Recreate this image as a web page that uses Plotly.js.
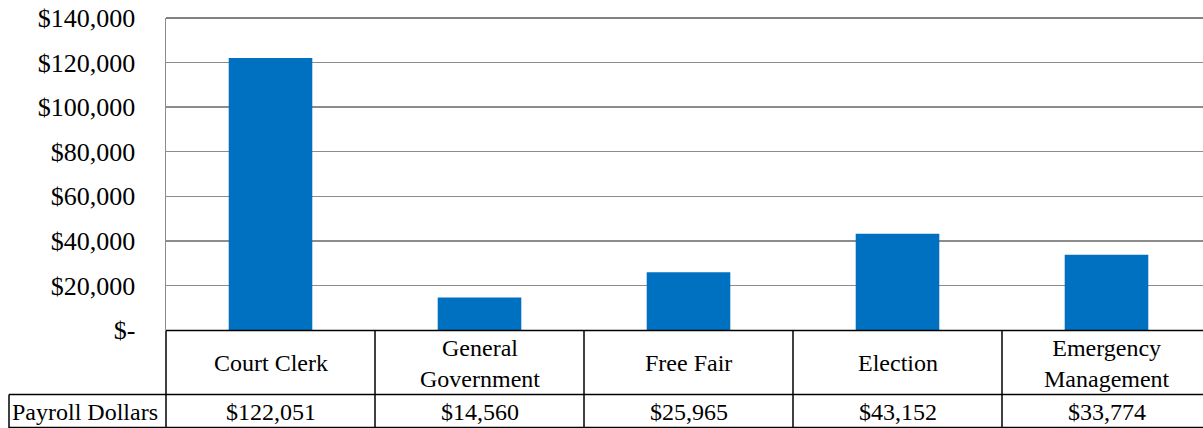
<!DOCTYPE html>
<html>
<head>
<meta charset="utf-8">
<script src="https://cdn.plot.ly/plotly-3.0.1.min.js"></script>
<style>html,body{margin:0;padding:0;background:#fff;}#chart{width:1203px;height:428px;}</style>
</head>
<body>
<div id="chart"></div>
<script>
const categories = ["Court Clerk", "General<br>Government", "Free Fair", "Election", "Emergency<br>Management"];
const payroll = [122051, 14560, 25965, 43152, 33774];
const valueLabels = ["$122,051", "$14,560", "$25,965", "$43,152", "$33,774"];
const rowLabel = "Payroll Dollars";
const yTickVals = [0, 20000, 40000, 60000, 80000, 100000, 120000, 140000];
const yTickText = ["$-", "$20,000", "$40,000", "$60,000", "$80,000", "$100,000", "$120,000", "$140,000"];

const W = 1203, H = 428;
const mL = 166, mR = 0, mT = 18, mB = 98;
const plotW = W - mL - mR, plotH = H - mT - mB;
const colW = 209;
const xr = [-0.5, -0.5 + plotW / colW];
const toPx = xd => (xd - xr[0]) / (xr[1] - xr[0]);
const pyOf = px => (H - mB - px) / plotH; // convert page y px to paper y
const pxX = px => (px - mL) / plotW;

const xs = categories.map((c, i) => i);
const font = "Liberation Serif";

const shapes = [];
const lineStyle = {color: "#000", width: 1.5};
// top border of plot area
shapes.push({type: "line", xref: "paper", yref: "paper", x0: 0, x1: 1.02, y0: 1, y1: 1, line: {color: "#595959", width: 1.5}});
// horizontal lines
shapes.push({type: "line", xref: "paper", yref: "paper", x0: 0, x1: 1.02, y0: pyOf(330.5), y1: pyOf(330.5), line: lineStyle});
shapes.push({type: "line", xref: "paper", yref: "paper", x0: pxX(9), x1: 1.02, y0: pyOf(394.5), y1: pyOf(394.5), line: lineStyle});
shapes.push({type: "line", xref: "paper", yref: "paper", x0: pxX(9), x1: 1.02, y0: pyOf(427.5), y1: pyOf(427.5), line: lineStyle});
// vertical lines
shapes.push({type: "line", xref: "paper", yref: "paper", x0: pxX(9), x1: pxX(9), y0: pyOf(394.5), y1: pyOf(428), line: lineStyle});
for (let k = 0; k < categories.length; k++) {
  const xp = toPx(k - 0.5);
  shapes.push({type: "line", xref: "paper", yref: "paper", x0: xp, x1: xp, y0: pyOf(330.5), y1: pyOf(428), line: lineStyle});
}

const tfont = {family: font, size: 24, color: "#000"};
const annotations = [];
categories.forEach((c, i) => {
  annotations.push({xref: "x", yref: "paper", x: i, y: pyOf(363), text: c, showarrow: false,
    xanchor: "center", yanchor: "middle", font: tfont});
  annotations.push({xref: "x", yref: "paper", x: i, y: pyOf(412), text: valueLabels[i], showarrow: false,
    xanchor: "center", yanchor: "middle", font: tfont});
});
annotations.push({xref: "paper", yref: "paper", x: pxX(85), y: pyOf(412), text: rowLabel, showarrow: false,
  xanchor: "center", yanchor: "middle", font: tfont});

const trace = {
  type: "bar", x: xs, y: payroll, width: 0.4,
  marker: {color: "#0070C0"}, hoverinfo: "skip"
};

const layout = {
  width: W, height: H,
  margin: {l: mL, r: mR, t: mT, b: mB, pad: 0},
  paper_bgcolor: "#fff", plot_bgcolor: "#fff",
  showlegend: false,
  font: {family: font, color: "#000"},
  xaxis: {range: xr, showticklabels: false, showgrid: false, zeroline: false, ticks: "", fixedrange: true},
  yaxis: {range: [0, 140000], tickvals: yTickVals, ticktext: yTickText,
    showgrid: true, gridcolor: "#8c8c8c", gridwidth: 1.5, zeroline: false,
    showline: true, linecolor: "#8c8c8c", linewidth: 1.5,
    ticks: "", ticklabelstandoff: 24,
    tickfont: {family: font, size: 26, color: "#000"}},
  shapes: shapes,
  annotations: annotations
};

Plotly.newPlot("chart", [trace], layout, {displayModeBar: false, staticPlot: true});
</script>
</body>
</html>
